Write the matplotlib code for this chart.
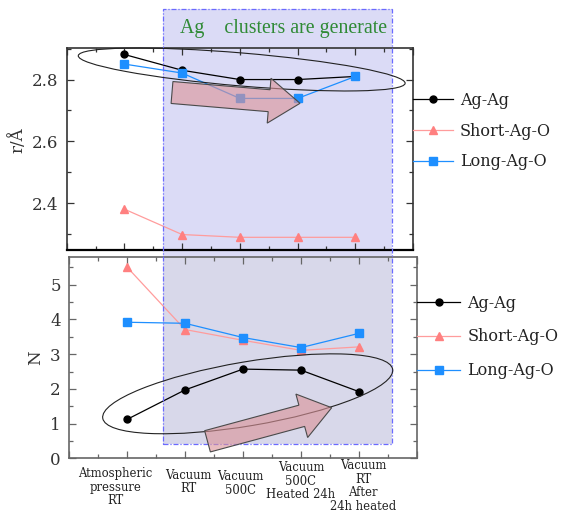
import matplotlib
matplotlib.use("Agg")
import matplotlib.pyplot as plt
from matplotlib.patches import Rectangle, Ellipse, FancyArrow
from matplotlib.ticker import MultipleLocator

# ---- data -------------------------------------------------------------
conditions = ["Atmospheric\npressure\nRT", "Vacuum\nRT", "Vacuum\n500C",
              "Vacuum\n500C\nHeated 24h", "Vacuum\nRT\nAfter\n24h heated"]
x_pos = [1, 2, 3, 4, 5]
series_names = ["Ag-Ag", "Short-Ag-O", "Long-Ag-O"]

# bond distance r / Angstrom
r_ag_ag = [2.881, 2.830, 2.800, 2.800, 2.810]
r_short_ag_o = [2.381, 2.299, 2.290, 2.290, 2.290]
r_long_ag_o = [2.850, 2.821, 2.739, 2.739, 2.810]

# coordination number N
n_ag_ag = [1.12, 1.97, 2.57, 2.54, 1.92]
n_short_ag_o = [5.51, 3.71, 3.40, 3.11, 3.21]
n_long_ag_o = [3.92, 3.89, 3.48, 3.19, 3.60]

title_text = "Ag    clusters are generate"

# ---- styling ------------------------------------------------------------
plt.rcParams['font.family'] = ['DejaVu Serif']
W, H, DPI = 561, 515, 100
styles = [
    dict(color='black', marker='o', ms=5, mfc='black', mec='black', lw=0.9),
    dict(color='#ff9c9c', marker='^', ms=6, mfc='#ff8080', mec='#ff8080', lw=0.9),
    dict(color='#1e8fff', marker='s', ms=5.5, mfc='#1e8fff', mec='#1e8fff', lw=0.9),
]


def px(x, y):
    """pixel position (origin top-left) -> inches for dpi_scale_trans"""
    return x / DPI, (H - y) / DPI


fig = plt.figure(figsize=(W / DPI, H / DPI), dpi=DPI, facecolor='white')
ax_r = fig.add_axes([66.7 / W, 1 - 250 / H, 346.3 / W, 202 / H])
ax_n = fig.add_axes([69 / W, 1 - 458.3 / H, 348 / W, 201.3 / H])
for ax in (ax_r, ax_n):
    ax.set_facecolor('none')

# shaded region behind both panels
shade = Rectangle(px(163.3, 444.3), 228.4 / DPI, (444.3 - 9) / DPI,
                  transform=fig.dpi_scale_trans, facecolor='#dbdbf6',
                  edgecolor='none', zorder=-2)
shade_low = Rectangle(px(163.3, 444.3), 228.4 / DPI, (444.3 - 257) / DPI,
                      transform=fig.dpi_scale_trans, facecolor='#d8d8ea',
                      edgecolor='none', zorder=-1.9)
shade_edge = Rectangle(px(163.3, 444.3), 228.4 / DPI, (444.3 - 9) / DPI,
                       transform=fig.dpi_scale_trans, facecolor='none',
                       edgecolor='#6a6aff', lw=0.9,
                       linestyle=(0, (4, 1.5, 1, 1.5)), zorder=3)
for p in (shade, shade_low, shade_edge):
    fig.add_artist(p)

fig.text(180 / W, 1 - 33 / H, title_text, ha='left', va='baseline',
         color='#2f8a35', fontsize=14.3, family='Liberation Serif')

# ---- plot series ----------------------------------------------------------
r_series = [r_ag_ag, r_short_ag_o, r_long_ag_o]
n_series = [n_ag_ag, n_short_ag_o, n_long_ag_o]
for vals, st, name in zip(r_series, styles, series_names):
    ax_r.plot(x_pos, vals, label=name, **st)
for vals, st, name in zip(n_series, styles, series_names):
    ax_n.plot(x_pos, vals, label=name, **st)

# ---- axes ---------------------------------------------------------------
ax_r.set_xlim(0, 6)
ax_r.set_ylim(2.249, 2.902)
ax_r.yaxis.set_major_locator(MultipleLocator(0.2))
ax_r.yaxis.set_minor_locator(MultipleLocator(0.1))
ax_n.set_xlim(0, 6)
ax_n.set_ylim(0, 5.8)
ax_n.yaxis.set_major_locator(MultipleLocator(1))
ax_n.yaxis.set_minor_locator(MultipleLocator(0.5))

for ax, sc in ((ax_r, '#333333'), (ax_n, '#666666')):
    ax.xaxis.set_major_locator(MultipleLocator(1))
    ax.xaxis.set_minor_locator(MultipleLocator(0.5))
    ax.tick_params(which='both', direction='in', top=True, right=True,
                   color=sc, width=0.9, labelbottom=False,
                   labelsize=12, labelcolor='#333333', pad=6)
    ax.tick_params(which='major', length=5)
    ax.tick_params(which='minor', length=2.8)
    for s in ax.spines.values():
        s.set_color(sc)
        s.set_linewidth(1.2)
ax_r.spines['bottom'].set_color('black')
ax_r.spines['bottom'].set_linewidth(1.6)

ax_r.set_ylabel("r/Å", fontsize=12, color='#333333')
ax_r.yaxis.set_label_coords(-0.115, 0.545)
ax_n.set_ylabel("N", fontsize=12, color='#333333')
ax_n.yaxis.set_label_coords(-0.072, 0.5)

# category labels under the lower panel
label_dx = [-11.7, 3, -2.3, 0, 4]
label_dy = [9, 10.4, 12, 3, 1.0]
for xv, txt, dx, dy in zip(x_pos, conditions, label_dx, label_dy):
    ax_n.annotate(txt, xy=(xv, 0), xycoords=('data', 'axes fraction'),
                  xytext=(dx * 0.72, -dy * 0.72), textcoords='offset points',
                  ha='center', va='top', fontsize=8.4, linespacing=1.05,
                  color='#222222', annotation_clip=False)

# ---- legends --------------------------------------------------------------
ax_r.legend(loc='center left', bbox_to_anchor=(1.0, 0.589), frameon=False,
            borderaxespad=0, borderpad=0, handlelength=2.5,
            handletextpad=0.45, labelspacing=0.86,
            prop={'family': 'DejaVu Serif', 'size': 11.5}, labelcolor='#222222')
ax_n.legend(loc='center left', bbox_to_anchor=(1.0, 0.603), frameon=False,
            borderaxespad=0, borderpad=0, handlelength=2.7,
            handletextpad=0.45, labelspacing=1.05,
            prop={'family': 'DejaVu Serif', 'size': 11.5}, labelcolor='#222222')

# ---- annotations: ellipses and trend arrows --------------------------------
ell_top = Ellipse(px(241.7, 69.5), 328 / DPI, 33 / DPI, angle=-4.83,
                  transform=fig.dpi_scale_trans, facecolor='none',
                  edgecolor='#222222', lw=0.8, zorder=5)
ell_low = Ellipse(px(247.7, 393.8), 294 / DPI, 64 / DPI, angle=9.6,
                  transform=fig.dpi_scale_trans, facecolor='none',
                  edgecolor='#222222', lw=0.8, zorder=5)
fig.add_artist(ell_top)
fig.add_artist(ell_low)


def fat_arrow(tail, tip):
    x0, y0 = px(*tail)
    x1, y1 = px(*tip)
    return FancyArrow(x0, y0, x1 - x0, y1 - y0, width=22 / DPI,
                      head_width=45 / DPI, head_length=31 / DPI,
                      length_includes_head=True, transform=fig.dpi_scale_trans,
                      facecolor=(0.86, 0.58, 0.60, 0.62), edgecolor='#4a4a4a',
                      lw=0.8, zorder=6)


fig.add_artist(fat_arrow((172, 92.5), (300, 103.3)))
fig.add_artist(fat_arrow((207.5, 441.3), (331.7, 407.7)))

fig.savefig("out.png", dpi=DPI)
